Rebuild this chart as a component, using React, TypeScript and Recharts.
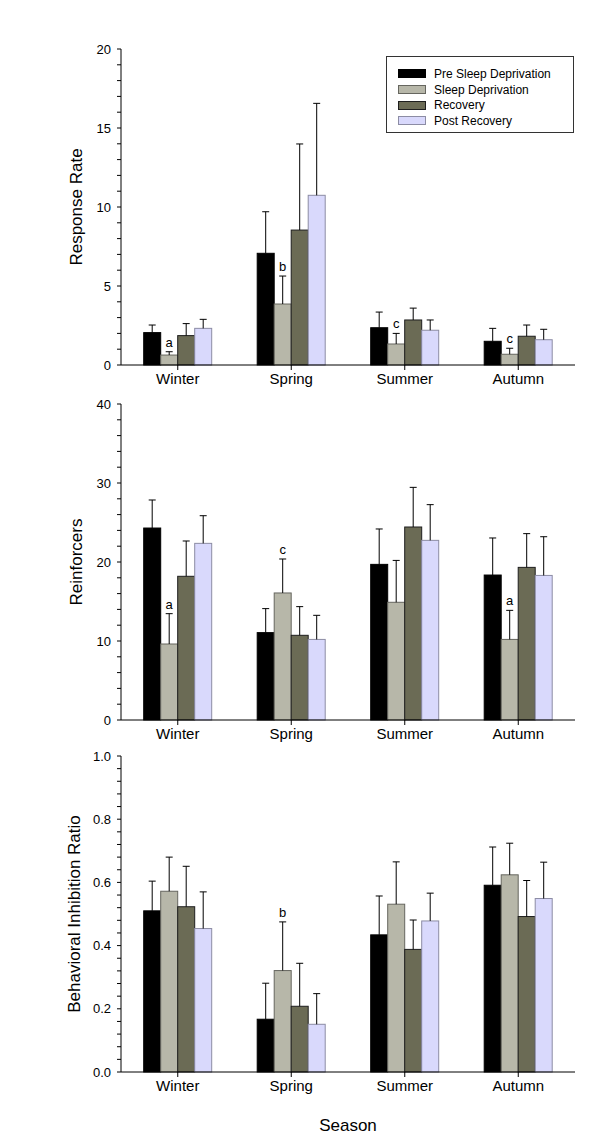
import { Bar, BarChart, Legend, XAxis, YAxis } from "recharts";

const seasons = ["Winter", "Spring", "Summer", "Autumn"];

// Response rate (means, upper SE)
const ratePre = [2.05, 7.07, 2.36, 1.5];
const rateSd = [0.63, 3.86, 1.33, 0.68];
const rateRec = [1.86, 8.54, 2.85, 1.82];
const ratePost = [2.32, 10.74, 2.2, 1.6];
const ratePreErr = [0.48, 2.63, 0.99, 0.82];
const rateSdErr = [0.21, 1.77, 0.67, 0.38];
const rateRecErr = [0.76, 5.45, 0.75, 0.71];
const ratePostErr = [0.57, 5.82, 0.65, 0.66];
const rateLetters = ["a", "b", "c", "c"];

// Reinforcers
const reinfPre = [24.3, 11.06, 19.7, 18.35];
const reinfSd = [9.62, 16.08, 14.9, 10.2];
const reinfRec = [18.19, 10.72, 24.43, 19.32];
const reinfPost = [22.36, 10.2, 22.74, 18.3];
const reinfPreErr = [3.55, 3.04, 4.48, 4.69];
const reinfSdErr = [3.84, 4.3, 5.3, 3.68];
const reinfRecErr = [4.47, 3.63, 5.02, 4.27];
const reinfPostErr = [3.5, 3.05, 4.52, 4.9];
const reinfLetters = ["a", "c", "", "a"];

// Behavioral inhibition ratio
const birPre = [0.51, 0.167, 0.434, 0.591];
const birSd = [0.572, 0.321, 0.531, 0.624];
const birRec = [0.523, 0.208, 0.388, 0.492];
const birPost = [0.454, 0.151, 0.478, 0.549];
const birPreErr = [0.094, 0.114, 0.123, 0.121];
const birSdErr = [0.108, 0.154, 0.134, 0.1];
const birRecErr = [0.128, 0.136, 0.093, 0.114];
const birPostErr = [0.116, 0.097, 0.088, 0.115];
const birLetters = ["", "b", "", ""];

const rateMajor = [0, 5, 10, 15, 20];
const reinfMajor = [0, 10, 20, 30, 40];
const birMajor = [0, 0.2, 0.4, 0.6, 0.8, 1.0];

const SERIES = [
  { key: "pre", name: "Pre Sleep Deprivation", fill: "#000000", stroke: "#000000" },
  { key: "sd", name: "Sleep Deprivation", fill: "#b7b7a9", stroke: "#66665f" },
  { key: "rec", name: "Recovery", fill: "#6b6b55", stroke: "#1e1e1e" },
  { key: "post", name: "Post Recovery", fill: "#d9d9fc", stroke: "#8c8ca4" },
];

const FONT = "'Liberation Sans', Arial, sans-serif";

function buildRows(vals: number[][], errs: number[][], letters: string[]) {
  return seasons.map((season, i) => {
    const row: any = { season, letter: letters[i] };
    SERIES.forEach((s, j) => {
      row[s.key] = vals[j][i];
      row[s.key + "Err"] = errs[j][i];
    });
    return row;
  });
}

// ticks between majors, every minor step
function withMinor(major: number[], parts: number) {
  const out: number[] = [];
  for (let i = 0; i < major.length - 1; i++) {
    const step = (major[i + 1] - major[i]) / parts;
    for (let k = 0; k < parts; k++) out.push(+(major[i] + k * step).toFixed(6));
  }
  out.push(major[major.length - 1]);
  return out;
}

// bar rect plus a one-sided (upward) error bar, scaled off the bar's own pixel height
function BarWithErr(props: any, key: string, letter: boolean) {
  const { x, y, width, height, payload, fill, stroke } = props;
  const val = payload[key];
  const err = payload[key + "Err"];
  const top = val ? y - (height / val) * err : y;
  const cx = x + width / 2;
  return (
    <g>
      <rect x={x} y={y} width={width} height={height} fill={fill} stroke={stroke} />
      <line x1={cx} y1={y} x2={cx} y2={top} stroke="#000" />
      <line x1={cx - 3.5} y1={top} x2={cx + 3.5} y2={top} stroke="#000" />
      {letter && payload.letter ? (
        <text x={cx} y={top - 5} textAnchor="middle" fontSize={13} fill="#000">
          {payload.letter}
        </text>
      ) : null}
    </g>
  );
}

function LegendBox({ payload }: any) {
  const items = SERIES.map((s) => ({ s, p: (payload || []).find((p: any) => p.dataKey === s.key) })).filter(
    (d) => d.p
  );
  return (
    <div
      style={{
        border: "1px solid #333",
        boxSizing: "border-box",
        width: 188,
        height: 77,
        padding: "9px 0 0 11px",
        background: "#fff",
        fontFamily: FONT,
      }}
    >
      {items.map(({ s, p }) => (
        <div key={s.key} style={{ display: "flex", alignItems: "center", height: 15.7 }}>
          <span
            style={{
              display: "inline-block",
              flex: "0 0 28px",
              width: 28,
              height: 9,
              boxSizing: "border-box",
              background: p.color,
              border: `1px solid ${s.stroke}`,
              marginRight: 8,
            }}
          />
          <span style={{ fontSize: 12, color: "#000", whiteSpace: "nowrap" }}>{p.value}</span>
        </div>
      ))}
    </div>
  );
}

type PanelProps = {
  rows: any[];
  yLabel: string;
  major: number[];
  parts: number;
  digits: number;
  marginTop: number;
  labelOffset: number;
  legend?: boolean;
  xTitle?: string;
};

function Panel({ rows, yLabel, major, parts, digits, marginTop, labelOffset, legend, xTitle }: PanelProps) {
  const xHeight = xTitle ? 62 : 27;
  const height = marginTop + 316 + xHeight;
  const majorStep = major[1] - major[0];
  const YTick = ({ x, y, payload }: any) => {
    const v = payload.value;
    const isMajor = Math.abs(v / majorStep - Math.round(v / majorStep)) < 1e-6;
    if (!isMajor) return <g />;
    return (
      <text x={x} y={y} dy="0.35em" textAnchor="end" fontSize={13} fill="#000">
        {Number(v).toFixed(digits)}
      </text>
    );
  };
  return (
    <BarChart
      width={600}
      height={height}
      data={rows}
      margin={{ top: marginTop, right: 25, left: 60, bottom: 0 }}
      barCategoryGap="20%"
      barGap={0}
    >
      <XAxis
        dataKey="season"
        height={xHeight}
        tickSize={5}
        tickMargin={3}
        axisLine={{ stroke: "#000" }}
        tickLine={{ stroke: "#000" }}
        tick={{ fontSize: 15, fill: "#000" }}
        label={
          xTitle
            ? { value: xTitle, position: "insideBottom", offset: 3, style: { fontSize: 17, fill: "#000" } }
            : undefined
        }
      />
      <YAxis
        width={61}
        domain={[major[0], major[major.length - 1]]}
        ticks={withMinor(major, parts)}
        interval={0}
        tickSize={4}
        tickMargin={6}
        axisLine={{ stroke: "#000" }}
        tickLine={{ stroke: "#000" }}
        tick={<YTick />}
        label={{
          value: yLabel,
          angle: -90,
          position: "insideLeft",
          offset: labelOffset,
          style: { textAnchor: "middle", fontSize: 17, fill: "#000" },
        }}
      />
      {legend ? (
        <Legend
          layout="vertical"
          align="center"
          verticalAlign="middle"
          wrapperStyle={{ left: 386, top: 56, width: 188, height: 77 }}
          content={<LegendBox />}
        />
      ) : null}
      {SERIES.map((s) => (
        <Bar
          key={s.key}
          dataKey={s.key}
          name={s.name}
          fill={s.fill}
          stroke={s.stroke}
          isAnimationActive={false}
          shape={(p: any) => BarWithErr(p, s.key, s.key === "sd")}
        />
      ))}
    </BarChart>
  );
}

export default function App() {
  const rateRows = buildRows(
    [ratePre, rateSd, rateRec, ratePost],
    [ratePreErr, rateSdErr, rateRecErr, ratePostErr],
    rateLetters
  );
  const reinfRows = buildRows(
    [reinfPre, reinfSd, reinfRec, reinfPost],
    [reinfPreErr, reinfSdErr, reinfRecErr, reinfPostErr],
    reinfLetters
  );
  const birRows = buildRows(
    [birPre, birSd, birRec, birPost],
    [birPreErr, birSdErr, birRecErr, birPostErr],
    birLetters
  );
  return (
    <div style={{ width: 600, height: 1135, background: "#fff", fontFamily: FONT }}>
      <style>{"body{margin:0}"}</style>
      <Panel rows={rateRows} yLabel="Response Rate" major={rateMajor} parts={5} digits={0} marginTop={49} labelOffset={16} legend />
      <Panel rows={reinfRows} yLabel="Reinforcers" major={reinfMajor} parts={5} digits={0} marginTop={12} labelOffset={16} />
      <Panel rows={birRows} yLabel="Behavioral Inhibition Ratio" major={birMajor} parts={5} digits={1} marginTop={9} labelOffset={14} xTitle="Season" />
    </div>
  );
}
